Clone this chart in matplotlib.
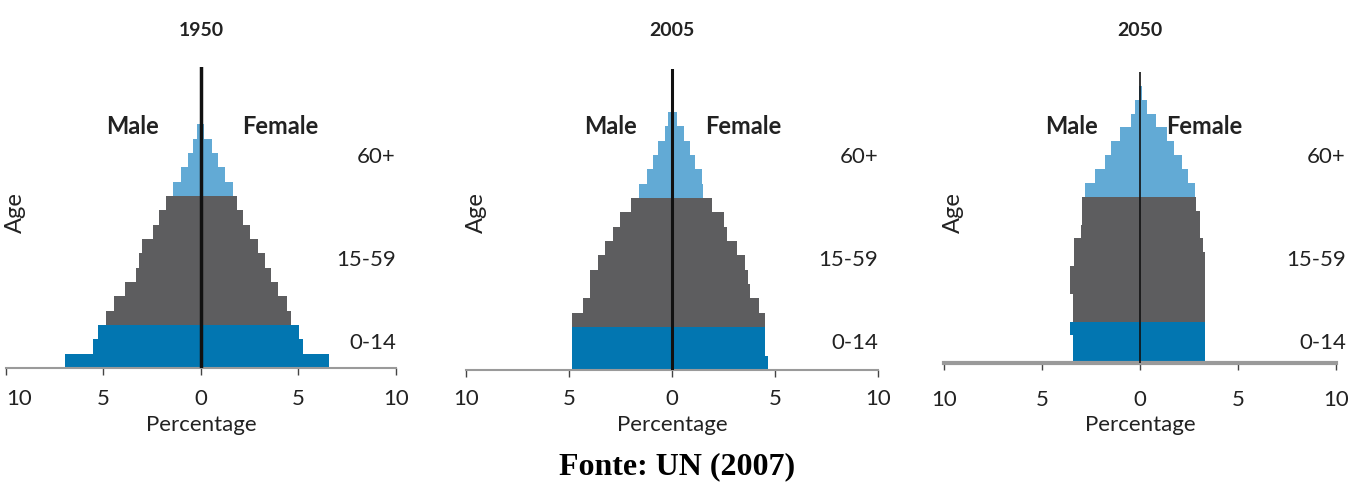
import matplotlib
matplotlib.use("Agg")
import numpy as np
from matplotlib import pyplot as plt
from matplotlib import transforms

plt.rcParams['font.family'] = ['Lato', 'DejaVu Sans']

# 5-year age groups: 0-4 ... 95-99, 100+
age_groups = ['0-4', '5-9', '10-14', '15-19', '20-24', '25-29', '30-34', '35-39',
              '40-44', '45-49', '50-54', '55-59', '60-64', '65-69', '70-74',
              '75-79', '80-84', '85-89', '90-94', '95-99', '100+']
years = ['1950', '2005', '2050']

male_1950 = [6.96, 5.52, 5.30, 4.87, 4.48, 3.88, 3.35, 3.20, 3.04, 2.48, 2.14,
             1.81, 1.42, 1.03, 0.68, 0.43, 0.21, 0, 0, 0, 0]
female_1950 = [6.55, 5.25, 5.01, 4.62, 4.39, 3.93, 3.59, 3.30, 2.91, 2.53, 2.17,
               1.83, 1.62, 1.23, 0.89, 0.55, 0.17, 0, 0, 0, 0]

male_2005 = [4.85, 4.85, 4.85, 4.85, 4.34, 3.98, 3.98, 3.61, 3.25, 2.88, 2.52,
             1.99, 1.59, 1.23, 0.91, 0.66, 0.34, 0.18, 0, 0, 0]
female_2005 = [4.68, 4.51, 4.51, 4.51, 4.22, 3.79, 3.70, 3.54, 3.14, 2.65, 2.54,
               1.96, 1.52, 1.47, 1.12, 0.87, 0.58, 0.23, 0, 0, 0]

male_2050 = [3.41, 3.41, 3.56, 3.41, 3.41, 3.56, 3.56, 3.36, 3.36, 3.00, 2.97,
             2.97, 2.80, 2.30, 1.77, 1.47, 1.02, 0.48, 0.23, 0.04, 0]
female_2050 = [3.32, 3.32, 3.32, 3.32, 3.32, 3.32, 3.32, 3.32, 3.19, 3.04, 3.04,
               2.85, 2.82, 2.45, 2.12, 1.74, 1.37, 0.82, 0.35, 0.10, 0]

males = [male_1950, male_2005, male_2050]
females = [female_1950, female_2005, female_2050]

band_labels = ['60+', '15-59', '0-14']

c_young = '#0276b1'
c_work = '#5d5d5f'
c_old = '#62aad5'

def band_color(i):
    if i < 3:
        return c_young
    if i < 12:
        return c_work
    return c_old

W, H = 1354, 483
fig = plt.figure(figsize=(W / 100, H / 100), dpi=100)

def fy(py):
    # pixel row from top -> figure fraction
    return 1 - py / H

# axes positions in figure fractions (left, bottom, width, height)
boxes = [[0.0044, 0.238, 0.288, 0.623],
         [0.3442, 0.234, 0.3043, 0.623],
         [0.6972, 0.248, 0.2895, 0.603]]
center_lw = [2.5, 2.2, 1.2]
male_x = [-3.5, -3.0, -3.5]
female_x = [4.05, 3.45, 3.3]
band_x = [10, 10, 10.5]
tick_pad = [10, 8.5, 14]

for k in range(3):
    ax = fig.add_axes(boxes[k])
    tr = transforms.blended_transform_factory(ax.transData, fig.transFigure)
    y = np.arange(len(age_groups))
    cols = [band_color(i) for i in range(len(age_groups))]
    ax.barh(y, -np.array(males[k]), height=1.0, align='edge', color=cols, linewidth=0)
    ax.barh(y, females[k], height=1.0, align='edge', color=cols, linewidth=0)
    ax.axvline(0, color='#111111', lw=center_lw[k], zorder=3)
    ax.set_xlim(-10, 10)
    ax.set_ylim(0, 21)
    for s in ['top', 'right', 'left']:
        ax.spines[s].set_visible(False)
    ax.spines['bottom'].set_color('#9a9a9a')
    ax.spines['bottom'].set_linewidth(3 if k == 2 else 1.5)
    ax.set_yticks([])
    ax.set_xticks([-10, -5, 0, 5, 10])
    ax.set_xticklabels(['10', '5', '0', '5', '10'])
    ax.tick_params(axis='x', length=5, width=1, color='#444444', pad=tick_pad[k],
                   labelsize=16, labelcolor='#222222')
    if k == 0:
        first = ax.get_xticklabels()[0]
        first.set_horizontalalignment('left')
        first.set_x(-10.2)
    ax.text(0, fy(425), 'Percentage', transform=tr, ha='center', va='center',
            fontsize=16, color='#222222')
    ax.text(0, fy(30), years[k], transform=tr, ha='center', va='center',
            fontsize=14, fontweight='bold', color='#222222')
    ax.text(male_x[k], fy(127), 'Male', transform=tr, ha='center', va='center',
            fontsize=17, fontweight='bold', color='#222222')
    ax.text(female_x[k], fy(127), 'Female', transform=tr, ha='center', va='center',
            fontsize=17, fontweight='bold', color='#222222')
    ax.text(-9.5, fy(213), 'Age', transform=tr, rotation=90, ha='center',
            va='center', fontsize=17, color='#222222')
    for lab, py in zip(band_labels, [157, 260, 343]):
        ax.text(band_x[k], fy(py), lab, transform=tr, ha='right', va='center',
                fontsize=16, color='#222222')

fig.text(0.5, fy(467), 'Fonte: UN (2007)', ha='center', va='center',
         fontsize=23, fontweight='bold', family='Liberation Serif')

fig.savefig('out.png', dpi=100)
